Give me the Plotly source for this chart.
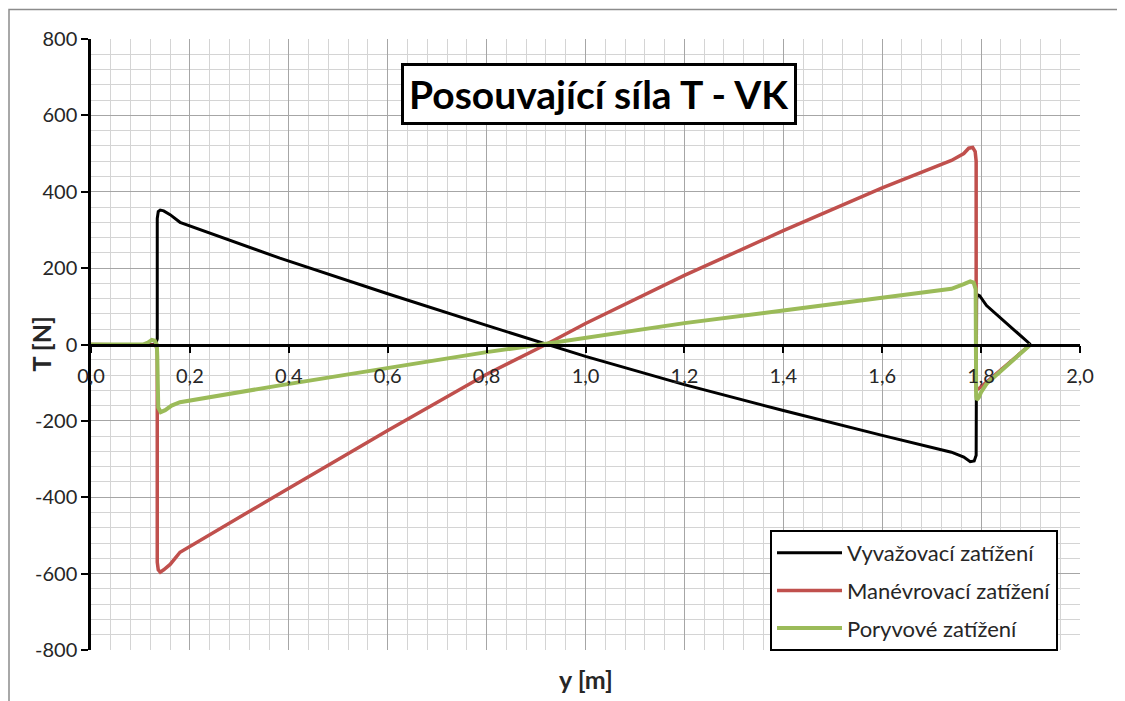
import plotly.graph_objects as go

# ---- data ----
vyv_x = [0, 0.125, 0.131, 0.134, 0.134, 0.136, 0.14, 0.147, 0.16, 0.17, 0.18, 0.382, 0.6, 0.8,
         0.922, 1.0, 1.2, 1.4, 1.6, 1.74, 1.765, 1.778, 1.786, 1.79, 1.791, 1.793, 1.797, 1.811, 1.9]
vyv_y = [0, 0, 2, 15, 330, 348, 352, 350, 340, 330, 320, 226, 133, 50,
         0, -31, -105, -173, -238, -282, -295, -307, -305, -290, 120, 130, 128, 102, 0]

man_x = [0, 0.125, 0.131, 0.134, 0.134, 0.136, 0.14, 0.147, 0.16, 0.17, 0.18, 0.382, 0.6, 0.8,
         0.92, 1.0, 1.2, 1.4, 1.6, 1.74, 1.765, 1.775, 1.783, 1.788, 1.79, 1.79, 1.795, 1.9]
man_y = [0, 0, -2, -15, -570, -590, -596, -590, -576, -560, -544, -390, -225, -78,
         0, 55, 181, 298, 410, 482, 500, 514, 516, 505, 480, -118, -116, 0]

por_x = [0, 0.105, 0.115, 0.123, 0.129, 0.133, 0.134, 0.136, 0.141, 0.15, 0.163, 0.18, 0.382, 0.6, 0.8,
         0.91, 1.0, 1.2, 1.4, 1.6, 1.74, 1.765, 1.778, 1.785, 1.789, 1.79, 1.791, 1.795, 1.80, 1.811, 1.9]
por_y = [0, 0, 5, 12, 10, 0, -30, -165, -177, -172, -160, -151, -107, -62, -20,
         0, 17, 56, 89, 124, 146, 158, 165, 162, 145, -135, -145, -140, -125, -103, 0]

series_names = ["Vyvažovací zatížení", "Manévrovací zatížení", "Poryvové zatížení"]
series_colors = ["#000000", "#C0504D", "#9BBB59"]
series_widths = [3, 3.5, 4]

x_tickvals = [0.0, 0.2, 0.4, 0.6, 0.8, 1.0, 1.2, 1.4, 1.6, 1.8, 2.0]
x_ticktext = ["0,0", "0,2", "0,4", "0,6", "0,8", "1,0", "1,2", "1,4", "1,6", "1,8", "2,0"]
y_tickvals = [-800, -600, -400, -200, 0, 200, 400, 600, 800]
y_ticktext = ["-800", "-600", "-400", "-200", "0", "200", "400", "600", "800"]

title_text = "Posouvající síla T - VK"
x_title = "y [m]"
y_title = "T [N]"

FONT = "Lato"
PW, PH = 989, 611  # plot area size in px

fig = go.Figure()
for i, (xs, ys) in enumerate([(vyv_x, vyv_y), (man_x, man_y), (por_x, por_y)]):
    fig.add_trace(go.Scatter(
        x=xs, y=ys, mode="lines", name=series_names[i], legendgroup=f"g{i}",
        line=dict(color=series_colors[i], width=series_widths[i]),
    ))

fig.update_layout(
    width=1109, height=693,
    margin=dict(l=83, r=37, t=31, b=51),
    paper_bgcolor="white", plot_bgcolor="white",
    font=dict(family=FONT, color="#000000", size=20),
    showlegend=True,
    legend=dict(
        x=(770 - 91) / PW, y=(650 - 530) / PH, xanchor="left", yanchor="top",
        bordercolor="black", borderwidth=2, bgcolor="white",
        font=dict(size=22, family=FONT, color="#262626"),
        tracegroupgap=6, itemwidth=65,
    ),
    xaxis=dict(
        range=[0, 2.0], anchor="free", position=0.5,
        tickvals=x_tickvals, ticktext=x_ticktext,
        ticks="outside", ticklen=7, tickwidth=2, tickcolor="black",
        ticklabelstandoff=6,
        showline=True, linecolor="black", linewidth=2.5,
        showgrid=True, gridcolor="#A6A6A6", gridwidth=1,
        minor=dict(dtick=0.04, showgrid=True, gridcolor="#D4D4D4", gridwidth=1),
        zeroline=False, tickfont=dict(size=20, color="#262626"),
    ),
    yaxis=dict(
        range=[-800, 800],
        tickvals=y_tickvals, ticktext=y_ticktext,
        ticks="outside", ticklen=7, tickwidth=2, tickcolor="black",
        showline=True, linecolor="black", linewidth=2.5,
        showgrid=True, gridcolor="#A6A6A6", gridwidth=1,
        minor=dict(dtick=40, showgrid=True, gridcolor="#D4D4D4", gridwidth=1),
        zeroline=False, tickfont=dict(size=20, color="#262626"),
    ),
    annotations=[
        dict(text=f"<b>{title_text}</b>", xref="paper", yref="paper",
             x=(599 - 91) / PW, y=(650 - 93.5) / PH, xanchor="center", yanchor="middle",
             showarrow=False, font=dict(size=39, family=FONT, color="black"),
             bgcolor="white", bordercolor="black", borderwidth=3, borderpad=5),
        dict(text=f"<b>{x_title}</b>", xref="paper", yref="paper",
             x=0.5, y=(650 - 679) / PH, xanchor="center", yanchor="middle",
             showarrow=False, font=dict(size=25, family=FONT, color="#262626")),
        dict(text=f"<b>{y_title}</b>", xref="paper", yref="paper",
             x=(40 - 91) / PW, y=0.5, xanchor="center", yanchor="middle", textangle=-90,
             showarrow=False, font=dict(size=25, family=FONT, color="#262626")),
    ],
    shapes=[
        dict(type="rect", xref="paper", yref="paper",
             x0=(9 - 91) / PW, x1=(1200 - 91) / PW, y0=(650 - 760) / PH, y1=(650 - 9.5) / PH,
             line=dict(color="#8C8C8C", width=1.5), fillcolor="rgba(0,0,0,0)", layer="below"),
    ],
)

fig.write_html("out.html")
